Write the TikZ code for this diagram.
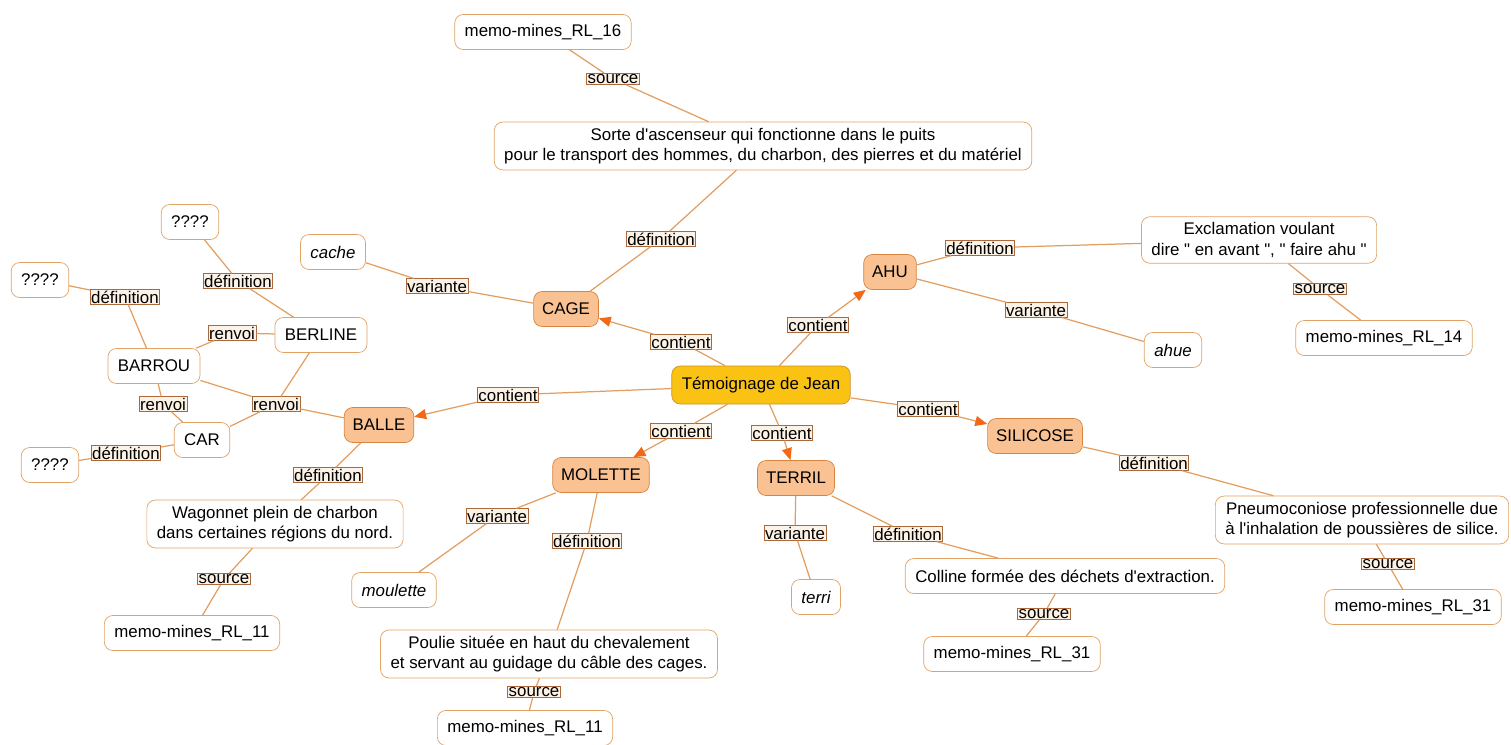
\documentclass[tikz,border=0pt]{standalone}
\usepackage{fontspec}
\setmainfont{Liberation Sans}
\usetikzlibrary{arrows.meta, shapes.geometric, positioning}
\definecolor{goldfill}{RGB}{250, 194, 18}
\definecolor{goldline}{RGB}{205, 145, 40}
\definecolor{peachfill}{RGB}{250, 194, 146}
\definecolor{peachline}{RGB}{214, 132, 64}
\definecolor{boxline}{RGB}{226, 162, 100}
\definecolor{linkline}{RGB}{226, 158, 96}
\definecolor{tipred}{RGB}{242, 104, 22}
\definecolor{tagline}{RGB}{170, 105, 60}
\definecolor{tagfill}{RGB}{252, 242, 230}

\tikzset{
  every node/.style={font=\fontsize{9.6}{11.6}\selectfont, align=center},
  mainbox/.style={draw=goldline, fill=goldfill, rounded corners=0.17cm, minimum height=0.76cm, inner xsep=0.2cm},
  conbox/.style={draw=peachline, fill=peachfill, rounded corners=0.17cm, minimum height=0.7cm, inner xsep=0.17cm},
  txtbox/.style={draw=boxline, fill=white, rounded corners=0.17cm, minimum height=0.7cm, inner xsep=0.2cm},
  tag/.style={draw=tagline, fill=tagfill, inner sep=0.6pt, line width=0.4pt},
  link/.style={draw=linkline, line width=0.7pt},
  pointer/.style={link, -{Triangle[length=0.24cm, width=0.2cm, color=tipred]}}
}

\begin{document}
\begin{tikzpicture}[x=0.02cm, y=-0.02cm]
  \useasboundingbox (0,0) rectangle (1511,744);

  \node[mainbox] (jean) at (761,385) {Témoignage de Jean};

  \node[conbox] (cage) at (566,309) {CAGE};
  \node[conbox] (ahu) at (890,272) {AHU};
  \node[conbox] (balle) at (379,425) {BALLE};
  \node[conbox] (molette) at (601,475) {MOLETTE};
  \node[conbox] (terril) at (796,478) {TERRIL};
  \node[conbox] (silicose) at (1035,436) {SILICOSE};

  \node[txtbox] (defcage) at (763,146) {Sorte d\textquotesingle ascenseur qui fonctionne dans le puits\\pour le transport des hommes, du charbon, des pierres et du matériel};
  \node[txtbox] (src16) at (543,32) {memo-mines\_RL\_16};
  \node[txtbox] (cache) at (333,252) {\itshape cache};

  \node[txtbox] (defahu) at (1259,240) {Exclamation voulant\\dire \textquotedbl{} en avant \textquotedbl, \textquotedbl{} faire ahu \textquotedbl};
  \node[txtbox] (src14) at (1384,338) {memo-mines\_RL\_14};
  \node[txtbox] (ahue) at (1173,350) {\itshape ahue};

  \node[txtbox] (berline) at (321,335) {BERLINE};
  \node[txtbox] (barrou) at (154,366) {BARROU};
  \node[txtbox] (car) at (202,440) {CAR};
  \node[txtbox] (qa) at (190,222) {????};
  \node[txtbox] (qb) at (40,280) {????};
  \node[txtbox] (qc) at (50,465) {????};

  \node[txtbox] (defballe) at (275,524) {Wagonnet plein de charbon\\dans certaines régions du nord.};
  \node[txtbox] (src11a) at (192,633) {memo-mines\_RL\_11};

  \node[txtbox] (moulette) at (394,590) {\itshape moulette};
  \node[txtbox] (defmol) at (549,654) {Poulie située en haut du chevalement\\et servant au guidage du câble des cages.};
  \node[txtbox] (src11b) at (525,728) {memo-mines\_RL\_11};

  \node[txtbox] (terri) at (816,597) {\itshape terri};
  \node[txtbox] (defterril) at (1065,576) {Colline formée des déchets d\textquotesingle extraction.};
  \node[txtbox] (src31a) at (1012,654) {memo-mines\_RL\_31};

  \node[txtbox] (defsil) at (1362,520) {Pneumoconiose professionnelle due\\à l\textquotesingle inhalation de poussières de silice.};
  \node[txtbox] (src31b) at (1413,607) {memo-mines\_RL\_31};

  % liens depuis le noeud central
  \node[tag] (tcage) at (681,342) {contient};
  \node[tag] (tahu) at (818,325) {contient};
  \node[tag] (tballe) at (508,395) {contient};
  \node[tag] (tmol) at (681,431) {contient};
  \node[tag] (tterril) at (782,433) {contient};
  \node[tag] (tsil) at (928,409) {contient};
  \draw[link] (jean) -- (tcage);
  \draw[pointer] (tcage) -- (cage);
  \draw[link] (jean) -- (tahu);
  \draw[pointer] (tahu) -- (ahu);
  \draw[link] (jean) -- (tballe);
  \draw[pointer] (tballe) -- (balle);
  \draw[link] (jean) -- (tmol);
  \draw[pointer] (tmol) -- (molette);
  \draw[link] (jean) -- (tterril);
  \draw[pointer] (tterril) -- (terril);
  \draw[link] (jean) -- (tsil);
  \draw[pointer] (tsil) -- (silicose);

  % CAGE
  \node[tag] (dcage) at (661,239) {définition};
  \node[tag] (scage) at (613,79) {source};
  \node[tag] (vcage) at (437,286) {variante};
  \draw[link] (cage) -- (dcage) -- (defcage);
  \draw[link] (defcage) -- (scage) -- (src16);
  \draw[link] (cage) -- (vcage) -- (cache);

  % AHU
  \node[tag] (dahu) at (980,248) {définition};
  \node[tag] (sahu) at (1320,289) {source};
  \node[tag] (vahu) at (1036,310) {variante};
  \draw[link] (ahu) -- (dahu) -- (defahu);
  \draw[link] (defahu) -- (sahu) -- (src14);
  \draw[link] (ahu) -- (vahu) -- (ahue);

  % BALLE et renvois
  \node[tag] (rballe) at (276,404) {renvoi};
  \node[tag] (rberline) at (232,333) {renvoi};
  \node[tag] (rbarrou) at (163,404) {renvoi};
  \node[tag] (dberline) at (238,281) {définition};
  \node[tag] (dbarrou) at (125,297) {définition};
  \node[tag] (dcar) at (126,453) {définition};
  \draw[link] (balle) -- (rballe);
  \draw[link] (rballe) -- (barrou);
  \draw[link] (rballe) -- (berline);
  \draw[link] (rballe) -- (car);
  \draw[link] (berline) -- (rberline) -- (barrou);
  \draw[link] (barrou) -- (rbarrou) -- (car);
  \draw[link] (berline) -- (dberline) -- (qa);
  \draw[link] (barrou) -- (dbarrou) -- (qb);
  \draw[link] (car) -- (dcar) -- (qc);
  \node[tag] (dballe) at (328,475) {définition};
  \node[tag] (sballe) at (224,579) {source};
  \draw[link] (balle) -- (dballe) -- (defballe);
  \draw[link] (defballe) -- (sballe) -- (src11a);

  % MOLETTE
  \node[tag] (vmol) at (497,516) {variante};
  \node[tag] (dmol) at (587,541) {définition};
  \node[tag] (smol) at (534,692) {source};
  \draw[link] (molette) -- (vmol) -- (moulette);
  \draw[link] (molette) -- (dmol) -- (defmol);
  \draw[link] (defmol) -- (smol) -- (src11b);

  % TERRIL
  \node[tag] (vterril) at (795,533) {variante};
  \node[tag] (dterril) at (908,534) {définition};
  \node[tag] (sterril) at (1044,614) {source};
  \draw[link] (terril) -- (vterril) -- (terri);
  \draw[link] (terril) -- (dterril) -- (defterril);
  \draw[link] (defterril) -- (sterril) -- (src31a);

  % SILICOSE
  \node[tag] (dsil) at (1154,463) {définition};
  \node[tag] (ssil) at (1388,564) {source};
  \draw[link] (silicose) -- (dsil) -- (defsil);
  \draw[link] (defsil) -- (ssil) -- (src31b);
\end{tikzpicture}
\end{document}
